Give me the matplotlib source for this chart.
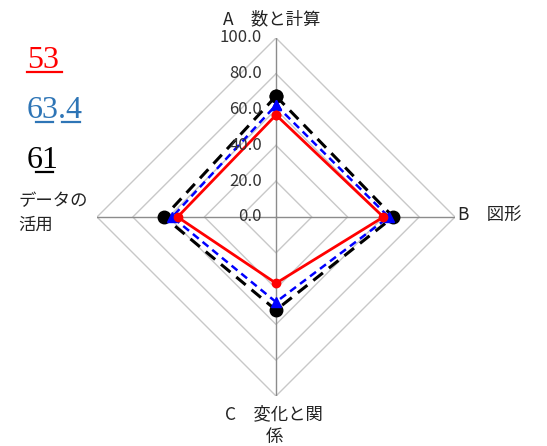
import numpy as np
import matplotlib
matplotlib.use("Agg")
import matplotlib.pyplot as plt
from matplotlib.lines import Line2D

plt.rcParams["font.family"] = ["Noto Sans CJK JP", "DejaVu Sans"]

# ─── data ────────────────────────────────────────────────────────────────
categories = ["A\u3000数と計算", "B\u3000図形", "C\u3000変化と関\n係", "データの\n活用"]
red_vals = [57, 60, 37, 55]
blue_vals = [62.5, 63, 47.5, 58]
black_vals = [67.5, 65.5, 52, 62.5]
levels = [20, 40, 60, 80, 100]
tick_values = [0, 20, 40, 60, 80, 100]
side_numbers = ["53", "63.4", "61"]
side_colors = ["#ff0000", "#2e75b6", "#000000"]

W, H = 547, 446
fig = plt.figure(figsize=(W / 100, H / 100), dpi=100)


def fx(px):
    return px / W


def fy(py):
    return 1 - py / H


# centre (276, 217), radius 179 px
ax = fig.add_axes([fx(97), fy(396), 358 / W, 358 / H], projection="polar")
ax.set_theta_offset(np.pi / 2)
ax.set_theta_direction(-1)
ax.set_ylim(0, 100)
ax.grid(False)
ax.set_xticks([])
ax.set_yticks([])
ax.spines["polar"].set_visible(False)
ax.patch.set_alpha(0)

n = len(categories)
theta = np.linspace(0, 2 * np.pi, n, endpoint=False)
theta_c = np.append(theta, theta[0])

# diamond grid + spokes
for lv in levels:
    ax.plot(theta_c, [lv] * (n + 1), color="#c8c8c8", lw=1.0, zorder=1)
for t in theta:
    ax.plot([t, t], [0, 100], color="#8c8c8c", lw=1.0, zorder=1)


def closed(v):
    return np.append(v, v[0])


ax.plot(theta_c, closed(black_vals), color="black", lw=2.2, ls=(0, (4, 2.5)),
        marker="o", ms=9, zorder=3, clip_on=False)
ax.plot(theta_c, closed(blue_vals), color="#0000ff", lw=1.8, ls=(0, (3, 2)),
        marker="^", ms=7, zorder=4, clip_on=False)
ax.plot(theta_c, closed(red_vals), color="#ff0000", lw=2.0, ls="-",
        marker="o", ms=6, zorder=5, clip_on=False)

# value labels on the top spoke
for v in tick_values:
    ax.annotate(f"{v:.1f}", (0, v), xytext=(-14, 0), textcoords="offset pixels",
                ha="right", va="center", fontsize=12, color="#333333", zorder=6)

# category labels
offsets = [(-4, 19), (3, 2), (-2, -30), (-9, 4)]
aligns = [("center", "center"), ("left", "center"), ("center", "center"), ("right", "center")]
for t, lab, off, (ha, va) in zip(theta, categories, offsets, aligns):
    ax.annotate(lab, (t, 100), xytext=off, textcoords="offset pixels",
                ha=ha, va=va, fontsize=12.5, color="#222222",
                multialignment="center" if ha != "right" else "left",
                linespacing=1.35, annotation_clip=False)

# side numbers with underlines
text_y = [68, 118, 168]
for s, c, y in zip(side_numbers, side_colors, text_y):
    fig.text(fx(27), fy(y), s, color=c, fontsize=23, family="Liberation Serif",
             ha="left", va="baseline")

underlines = [
    (27, 62, 72, side_colors[0]),
    (36, 53, 122, side_colors[1]),
    (62, 80, 122, side_colors[1]),
    (36, 53, 172, side_colors[2]),
]
for x0, x1, y, c in underlines:
    fig.add_artist(Line2D([fx(x0), fx(x1)], [fy(y), fy(y)], color=c, lw=1.6,
                          transform=fig.transFigure))

fig.savefig("out.png", dpi=100)
